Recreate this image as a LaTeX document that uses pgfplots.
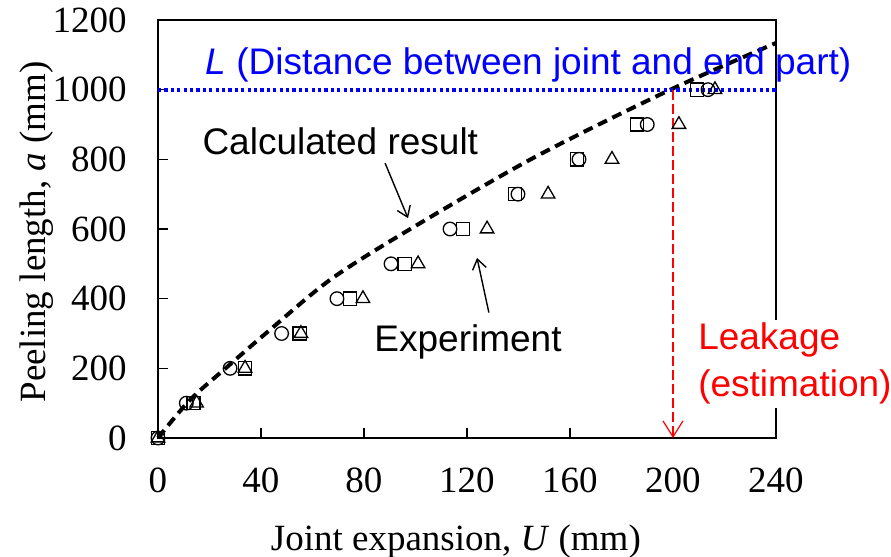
\documentclass[border=0pt]{standalone}
\usepackage{fontspec}
\setmainfont{Liberation Serif}
\newfontfamily\arial{Liberation Sans}
\usepackage{pgfplots}
\pgfplotsset{compat=1.18}
\usetikzlibrary{arrows.meta}

\begin{document}
\begin{tikzpicture}
\useasboundingbox (-79pt,-59.5pt) rectangle (366.5pt,219pt);
\begin{axis}[
  at={(0,0)}, anchor=south west,
  scale only axis,
  width=309pt, height=209pt,
  xmin=0, xmax=240, ymin=0, ymax=1200,
  xtick={0,40,...,240},
  ytick={0,200,...,1200},
  tick pos=left,
  tick align=inside,
  major tick length=5pt,
  axis line style={line width=1pt},
  every tick/.style={black, line width=0.8pt},
  scaled ticks=false,
  /pgf/number format/assume math mode=true,
  /pgf/number format/1000 sep={},
  ticklabel style={font=\fontsize{18.5}{20}\selectfont, inner sep=0pt},
  yticklabel style={anchor=east, xshift=-15.5pt},
  xticklabel style={anchor=north, yshift=-14.5pt},
  xlabel={Joint expansion, \textit{U} (mm)},
  ylabel={Peeling length, \textit{a} (mm)},
  label style={font=\fontsize{18.5}{20}\selectfont},
  xlabel style={at={(axis description cs:0.482,-0.27)}, anchor=base},
  ylabel style={at={(axis description cs:-0.196,0.493)}, anchor=center},
  clip=false,
]
  % experiment
  \addplot[only marks, mark=o, mark size=3.4pt, mark options={line width=0.65pt, black}]
    coordinates {(0,0) (11,100) (28,200) (48,300) (69.5,400) (90.5,500) (113.4,600) (139.8,700) (163.5,800) (190,900) (213.6,1000)};
  \addplot[only marks, mark=square, mark size=3.3pt, mark options={line width=0.65pt, black}]
    coordinates {(0,0) (13.8,100) (33.8,200) (55,300) (74.6,400) (95.8,500) (118.4,600) (138.6,700) (162.7,800) (186,900) (209.3,1000)};
  \addplot[only marks, mark=triangle, mark size=3.9pt, mark options={line width=0.65pt, black}]
    coordinates {(0,0) (15,100) (33.8,200) (55.5,300) (79.6,400) (101,500) (127.8,600) (151.5,700) (176.3,800) (202.3,900) (216.3,1000)};

  % calculated result
  \addplot[black, line width=2pt, dash pattern=on 5pt off 3pt, smooth]
    coordinates {(0,0) (12.4,109) (27,205) (42.3,303) (67,455) (98,600) (146,805) (199,1000) (240,1134)};

  % L
  \addplot[blue, line width=2pt, dash pattern=on 1.6pt off 1.6pt]
    coordinates {(0,1000) (240,1000)};

  % leakage
  \addplot[red, line width=0.6pt, dash pattern=on 5pt off 2pt, -{Straight Barb[length=8pt,width=10pt]}]
    coordinates {(200,1000) (200,0)};

  \node[anchor=west, inner sep=0pt, text=blue, font=\arial\fontsize{18.5}{20}\selectfont]
    at (axis cs:18.3,1071) {\textit{L} (Distance between joint and end part)};
  \node[font=\arial\fontsize{18.5}{20}\selectfont, inner sep=0pt]
    at (axis cs:70.8,851) {Calculated result};
  \node[font=\arial\fontsize{18.5}{20}\selectfont, inner sep=0pt]
    at (axis cs:120.4,277) {Experiment};
  \node[anchor=west, align=left, fill=white, inner sep=1.5pt, text=red,
        font=\arial\fontsize{18.5}{23.5}\selectfont]
    at (axis cs:208.5,213) {Leakage\\(estimation)};

  \draw[line width=0.7pt, -{Straight Barb[length=5pt,width=7pt]}]
    (axis cs:88.2,789) -- (axis cs:97.1,631);
  \draw[line width=0.7pt, -{Straight Barb[length=5pt,width=7pt]}]
    (axis cs:128.5,360) -- (axis cs:123.9,517);
\end{axis}
\end{tikzpicture}
\end{document}
